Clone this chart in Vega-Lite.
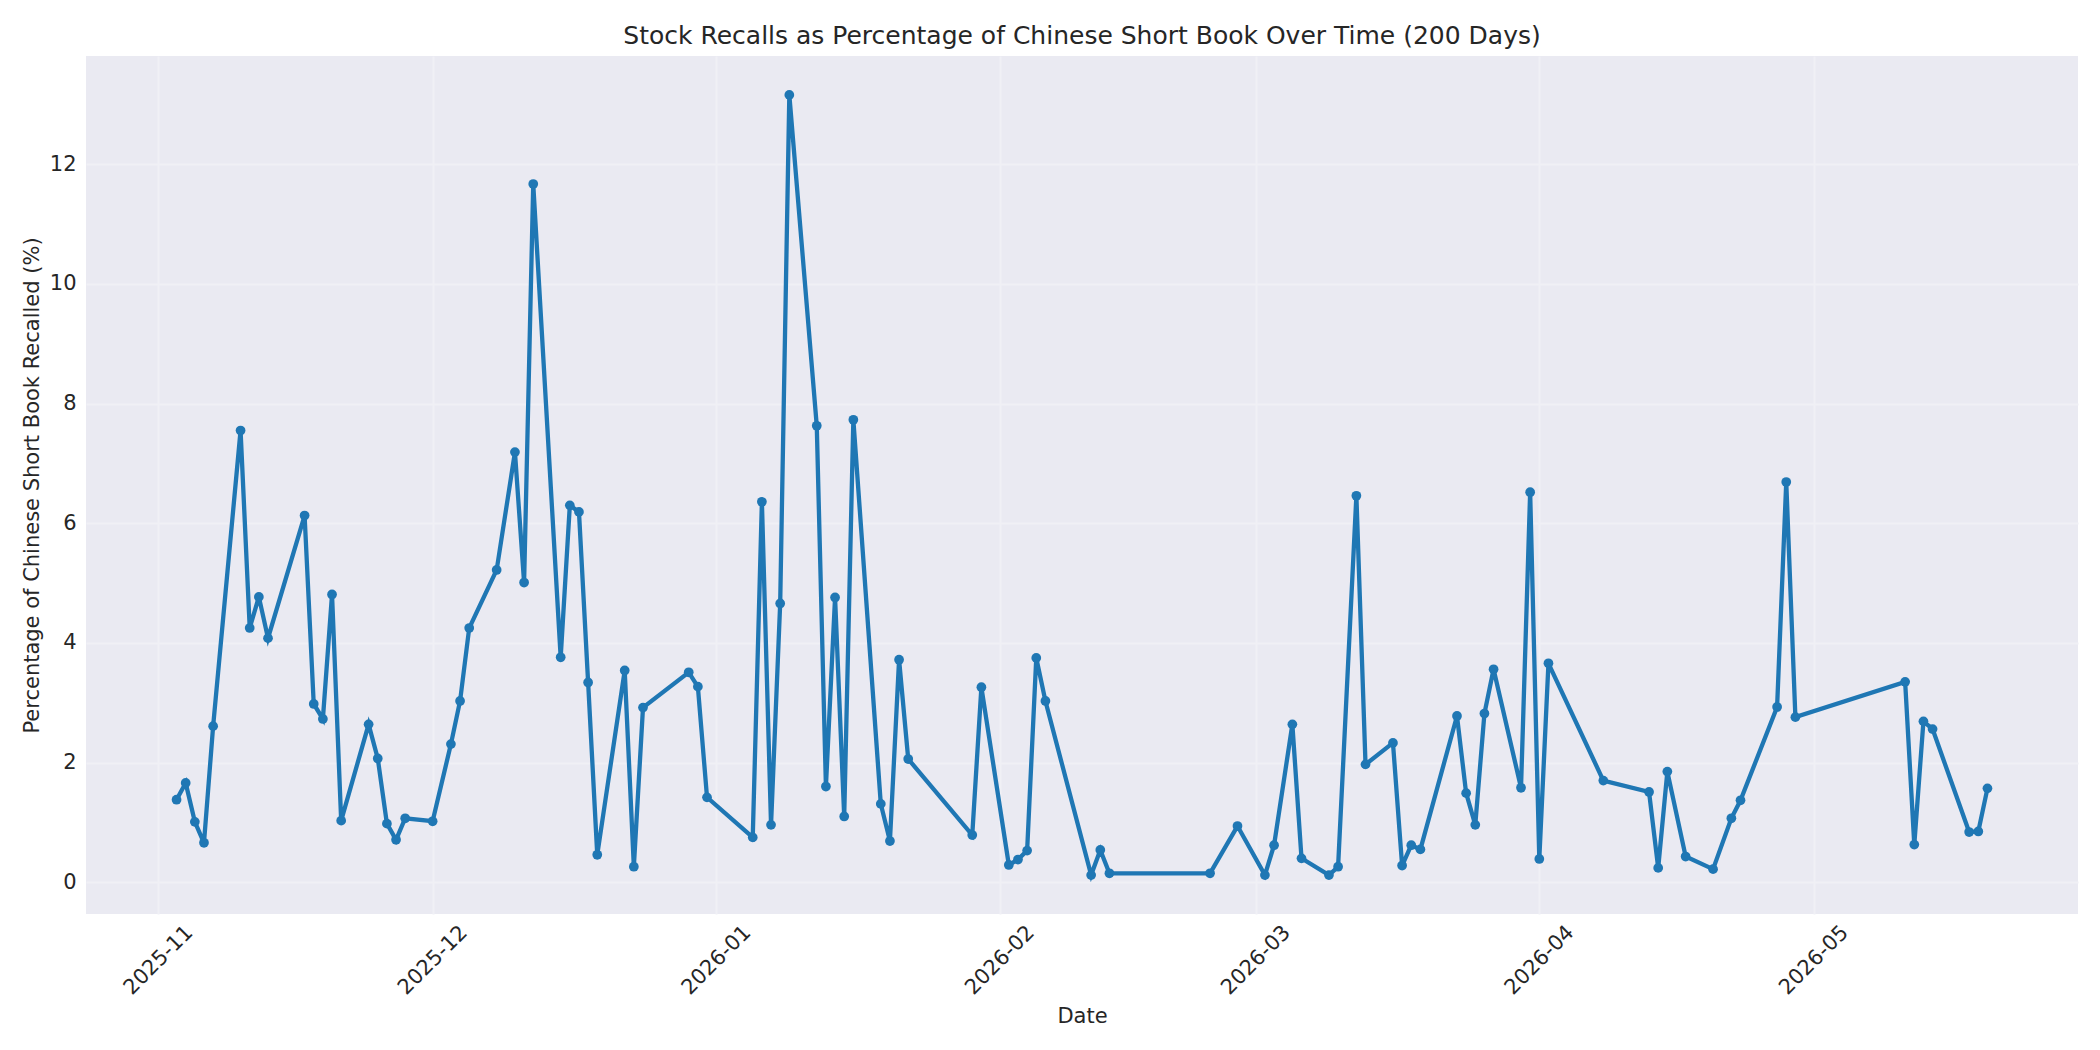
{
  "$schema": "https://vega.github.io/schema/vega-lite/v6.json",
  "width": 1992,
  "height": 858,
  "autosize": {"type": "none"},
  "padding": {"left": 86, "top": 56, "right": 22, "bottom": 136},
  "background": "white",
  "title": {
    "text": "Stock Recalls as Percentage of Chinese Short Book Over Time (200 Days)",
    "font": "DejaVu Sans",
    "fontSize": 25,
    "fontWeight": "normal",
    "color": "#262626",
    "anchor": "middle",
    "baseline": "alphabetic",
    "offset": 13,
    "dy": 26
  },
  "data": {
    "values": [
      {"date": "2025-11-03", "pct": 1.38},
      {"date": "2025-11-04", "pct": 1.66},
      {"date": "2025-11-05", "pct": 1.01},
      {"date": "2025-11-06", "pct": 0.66},
      {"date": "2025-11-07", "pct": 2.61},
      {"date": "2025-11-10", "pct": 7.55},
      {"date": "2025-11-11", "pct": 4.25},
      {"date": "2025-11-12", "pct": 4.77},
      {"date": "2025-11-13", "pct": 4.08},
      {"date": "2025-11-17", "pct": 6.13},
      {"date": "2025-11-18", "pct": 2.98},
      {"date": "2025-11-19", "pct": 2.73},
      {"date": "2025-11-20", "pct": 4.81},
      {"date": "2025-11-21", "pct": 1.03},
      {"date": "2025-11-24", "pct": 2.64},
      {"date": "2025-11-25", "pct": 2.07},
      {"date": "2025-11-26", "pct": 0.98},
      {"date": "2025-11-27", "pct": 0.71},
      {"date": "2025-11-28", "pct": 1.07},
      {"date": "2025-12-01", "pct": 1.02},
      {"date": "2025-12-03", "pct": 2.31},
      {"date": "2025-12-04", "pct": 3.03},
      {"date": "2025-12-05", "pct": 4.25},
      {"date": "2025-12-08", "pct": 5.22},
      {"date": "2025-12-10", "pct": 7.19},
      {"date": "2025-12-11", "pct": 5.01},
      {"date": "2025-12-12", "pct": 11.67},
      {"date": "2025-12-15", "pct": 3.76},
      {"date": "2025-12-16", "pct": 6.30},
      {"date": "2025-12-17", "pct": 6.19},
      {"date": "2025-12-18", "pct": 3.34},
      {"date": "2025-12-19", "pct": 0.46},
      {"date": "2025-12-22", "pct": 3.54},
      {"date": "2025-12-23", "pct": 0.26},
      {"date": "2025-12-24", "pct": 2.92},
      {"date": "2025-12-29", "pct": 3.51},
      {"date": "2025-12-30", "pct": 3.27},
      {"date": "2025-12-31", "pct": 1.42},
      {"date": "2026-01-05", "pct": 0.75},
      {"date": "2026-01-06", "pct": 6.36},
      {"date": "2026-01-07", "pct": 0.96},
      {"date": "2026-01-08", "pct": 4.66},
      {"date": "2026-01-09", "pct": 13.16},
      {"date": "2026-01-12", "pct": 7.63},
      {"date": "2026-01-13", "pct": 1.60},
      {"date": "2026-01-14", "pct": 4.76},
      {"date": "2026-01-15", "pct": 1.10},
      {"date": "2026-01-16", "pct": 7.73},
      {"date": "2026-01-19", "pct": 1.31},
      {"date": "2026-01-20", "pct": 0.69},
      {"date": "2026-01-21", "pct": 3.72},
      {"date": "2026-01-22", "pct": 2.06},
      {"date": "2026-01-29", "pct": 0.79},
      {"date": "2026-01-30", "pct": 3.26},
      {"date": "2026-02-02", "pct": 0.29},
      {"date": "2026-02-03", "pct": 0.38},
      {"date": "2026-02-04", "pct": 0.53},
      {"date": "2026-02-05", "pct": 3.75},
      {"date": "2026-02-06", "pct": 3.03},
      {"date": "2026-02-11", "pct": 0.12},
      {"date": "2026-02-12", "pct": 0.54},
      {"date": "2026-02-13", "pct": 0.15},
      {"date": "2026-02-24", "pct": 0.15},
      {"date": "2026-02-27", "pct": 0.94},
      {"date": "2026-03-02", "pct": 0.12},
      {"date": "2026-03-03", "pct": 0.62},
      {"date": "2026-03-05", "pct": 2.64},
      {"date": "2026-03-06", "pct": 0.40},
      {"date": "2026-03-09", "pct": 0.12},
      {"date": "2026-03-10", "pct": 0.26},
      {"date": "2026-03-12", "pct": 6.46},
      {"date": "2026-03-13", "pct": 1.97},
      {"date": "2026-03-16", "pct": 2.33},
      {"date": "2026-03-17", "pct": 0.28},
      {"date": "2026-03-18", "pct": 0.62},
      {"date": "2026-03-19", "pct": 0.55},
      {"date": "2026-03-23", "pct": 2.78},
      {"date": "2026-03-24", "pct": 1.49},
      {"date": "2026-03-25", "pct": 0.96},
      {"date": "2026-03-26", "pct": 2.82},
      {"date": "2026-03-27", "pct": 3.56},
      {"date": "2026-03-30", "pct": 1.58},
      {"date": "2026-03-31", "pct": 6.52},
      {"date": "2026-04-01", "pct": 0.39},
      {"date": "2026-04-02", "pct": 3.66},
      {"date": "2026-04-08", "pct": 1.70},
      {"date": "2026-04-13", "pct": 1.51},
      {"date": "2026-04-14", "pct": 0.24},
      {"date": "2026-04-15", "pct": 1.85},
      {"date": "2026-04-17", "pct": 0.43},
      {"date": "2026-04-20", "pct": 0.22},
      {"date": "2026-04-22", "pct": 1.07},
      {"date": "2026-04-23", "pct": 1.37},
      {"date": "2026-04-27", "pct": 2.93},
      {"date": "2026-04-28", "pct": 6.69},
      {"date": "2026-04-29", "pct": 2.76},
      {"date": "2026-05-11", "pct": 3.35},
      {"date": "2026-05-12", "pct": 0.63},
      {"date": "2026-05-13", "pct": 2.69},
      {"date": "2026-05-14", "pct": 2.56},
      {"date": "2026-05-18", "pct": 0.84},
      {"date": "2026-05-19", "pct": 0.85},
      {"date": "2026-05-20", "pct": 1.57}
    ]
  },
  "mark": {
    "type": "line",
    "color": "#1f77b4",
    "strokeWidth": 4.3,
    "point": {"filled": true, "size": 95, "color": "#1f77b4", "opacity": 1}
  },
  "encoding": {
    "x": {
      "field": "date",
      "type": "temporal",
      "title": "Date",
      "scale": {
        "type": "utc",
        "domain": [
          {"year": 2025, "month": 10, "date": 24, "hours": 2, "minutes": 24, "utc": true},
          {"year": 2026, "month": 5, "date": 29, "hours": 21, "minutes": 36, "utc": true}
        ]
      },
      "axis": {
        "values": [
          {"year": 2025, "month": 11, "date": 1, "utc": true},
          {"year": 2025, "month": 12, "date": 1, "utc": true},
          {"year": 2026, "month": 1, "date": 1, "utc": true},
          {"year": 2026, "month": 2, "date": 1, "utc": true},
          {"year": 2026, "month": 3, "date": 1, "utc": true},
          {"year": 2026, "month": 4, "date": 1, "utc": true},
          {"year": 2026, "month": 5, "date": 1, "utc": true}
        ],
        "labelExpr": "utcFormat(datum.value, '%Y-%m')",
        "labelAngle": -45,
        "labelAlign": "center",
        "labelBaseline": "middle",
        "labelPadding": 46,
        "titleY": 108,
        "titleBaseline": "alphabetic"
      }
    },
    "y": {
      "field": "pct",
      "type": "quantitative",
      "title": "Percentage of Chinese Short Book Recalled (%)",
      "scale": {"domain": [-0.53, 13.81], "nice": false, "zero": false},
      "axis": {
        "values": [0, 2, 4, 6, 8, 10, 12],
        "labelPadding": 10,
        "labelBaseline": "middle",
        "titleX": -48,
        "titleBaseline": "alphabetic"
      }
    }
  },
  "config": {
    "font": "DejaVu Sans",
    "view": {"fill": "#EAEAF2", "stroke": null},
    "axis": {
      "domain": false,
      "ticks": false,
      "grid": true,
      "gridColor": "#F0F0F5",
      "gridWidth": 2,
      "labelFont": "DejaVu Sans",
      "labelFontSize": 21,
      "labelColor": "#262626",
      "labelOverlap": false,
      "labelBound": false,
      "labelFlush": false,
      "titleFont": "DejaVu Sans",
      "titleFontSize": 21,
      "titleFontWeight": "normal",
      "titleColor": "#262626"
    }
  }
}
